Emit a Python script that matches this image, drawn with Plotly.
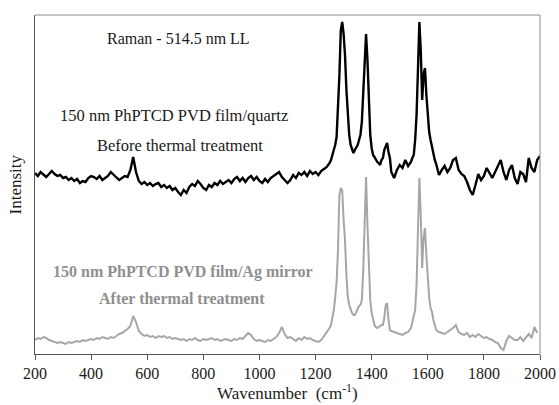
import plotly.graph_objects as go

# Raman shift sampling (cm-1): 10 cm-1 steps, 5 cm-1 steps across the main bands
wavenumber = (list(range(200, 1250, 10)) + list(range(1250, 1475, 5)) +
              list(range(1480, 1540, 10)) + list(range(1540, 1635, 5)) +
              list(range(1640, 2001, 10)))

# PVD film on quartz, before thermal treatment (offset, arbitrary units)
before_quartz = [
    181, 178, 182, 179, 177, 180, 183, 180, 178, 179,
    176, 177, 174, 176, 173, 175, 171, 173, 172, 176,
    178, 177, 175, 178, 174, 176, 178, 182, 179, 176,
    174, 176, 178, 177, 184, 197, 182, 173, 170, 172,
    169, 171, 168, 170, 171, 167, 169, 166, 168, 164,
    166, 162, 159, 164, 161, 167, 170, 168, 173, 170,
    166, 164, 169, 167, 171, 169, 173, 170, 172, 174,
    171, 175, 177, 173, 176, 172, 176, 178, 174, 177,
    173, 171, 175, 172, 176, 178, 180, 182, 177, 174,
    171, 174, 179, 176, 181, 179, 182, 178, 183, 180,
    182, 179, 183, 185, 187,
    # 1250 - 1470 (5 cm-1)
    191, 194, 199, 204, 209, 217, 242, 279, 324, 332,
    320, 299, 264, 234, 219, 209, 204, 201, 204, 206,
    209, 214, 219, 232, 259, 299, 320, 294, 254, 219,
    206, 199, 197, 194, 192, 191, 189, 194, 196, 204,
    208, 211, 202, 196, 182,
    # 1480 - 1530
    176, 184, 189, 186, 194, 188,
    # 1540 - 1630 (5 cm-1)
    192, 196, 199, 214, 239, 284, 332, 304, 254, 279,
    286, 259, 236, 222, 214, 206, 199, 194, 190,
    # 1640 - 2000
    179, 184, 188, 182, 186, 194, 196, 184, 180, 178,
    172, 164, 159, 169, 180, 174, 178, 186, 181, 176,
    182, 189, 194, 182, 174, 184, 189, 176, 170, 182,
    180, 172, 196, 186, 182, 194, 198, 204, 207
]

# PVD film on Ag mirror, after thermal treatment (arbitrary units)
after_ag = [
    14, 16, 15, 17, 16, 14, 13, 12, 11, 12,
    11, 10, 12, 11, 12, 13, 12, 14, 13, 14,
    15, 14, 16, 15, 17, 16, 15, 17, 16, 18,
    20, 21, 23, 25, 28, 38, 32, 23, 20, 18,
    19, 17, 18, 16, 18, 17, 18, 16, 17, 15,
    16, 15, 14, 15, 13, 15, 14, 16, 14, 13,
    15, 14, 15, 16, 14, 15, 13, 14, 15, 14,
    13, 15, 14, 16, 15, 18, 21, 19, 15, 13,
    14, 13, 12, 14, 13, 15, 17, 21, 27, 20,
    16, 17, 15, 13, 16, 14, 17, 15, 16, 14,
    13, 12, 14, 18, 21,
    # 1250 - 1470 (5 cm-1)
    26, 29, 36, 44, 56, 72, 104, 159, 166, 164,
    134, 114, 79, 57, 49, 44, 41, 39, 39, 42,
    46, 48, 49, 54, 84, 139, 177, 129, 79, 54,
    41, 34, 29, 27, 26, 27, 28, 29, 29, 36,
    49, 51, 34, 24, 23,
    # 1480 - 1530
    22, 21, 20, 19, 21, 22,
    # 1540 - 1630 (5 cm-1)
    26, 32, 39, 44, 69, 114, 176, 139, 86, 116,
    126, 99, 74, 56, 46, 42, 34, 28, 24,
    # 1640 - 2000
    22, 21, 20, 22, 24, 26, 29, 22, 20, 19,
    21, 17, 19, 17, 20, 18, 16, 17, 15, 14,
    12, 11, 6, 4, 13, 18, 16, 14, 14, 17,
    13, 17, 20, 16, 27, 21
]

tick_values = list(range(200, 2001, 200))

serif = "Liberation Serif"
gray = "#a6a6a6"
gray_text = "#8f8f8f"

fig = go.Figure()
fig.add_trace(go.Scatter(x=wavenumber, y=after_ag, mode="lines",
                         line=dict(color=gray, width=2), hoverinfo="skip"))
fig.add_trace(go.Scatter(x=wavenumber, y=before_quartz, mode="lines",
                         line=dict(color="black", width=2.4), hoverinfo="skip"))

fig.update_layout(
    width=559, height=405,
    margin=dict(l=35, r=19, t=15, b=51),
    paper_bgcolor="white", plot_bgcolor="white",
    showlegend=False,
    font=dict(family=serif, size=15, color="#1a1a1a"),
    xaxis=dict(range=[200, 2000], tickvals=tick_values, automargin=False,
               ticks="outside", ticklen=5, tickwidth=1, tickcolor="#555",
               showline=True, linecolor="#555", linewidth=1,
               showgrid=False, zeroline=False,
               tickfont=dict(family=serif, size=16, color="#1a1a1a")),
    yaxis=dict(range=[0, 339], showticklabels=False, ticks="", automargin=False,
               showline=True, linecolor="#555", linewidth=1,
               showgrid=False, zeroline=False),
    shapes=[
        dict(type="line", xref="paper", yref="paper", x0=0, x1=1, y0=1, y1=1,
             line=dict(color="#8c8c8c", width=1)),
        dict(type="line", xref="paper", yref="paper", x0=1, x1=1, y0=0, y1=1,
             line=dict(color="#8c8c8c", width=1)),
    ],
)

labels = [
    dict(text="Raman - 514.5 nm LL", x=713, y=316, size=16, color="#1a1a1a"),
    dict(text="150 nm PhPTCD PVD film/quartz", x=695, y=239, size=16.5, color="#1a1a1a"),
    dict(text="Before thermal treatment", x=717, y=209, size=16.5, color="#1a1a1a"),
    dict(text="<b>150 nm PhPTCD PVD film/Ag mirror</b>", x=727, y=82, size=16, color=gray_text),
    dict(text="<b>After thermal treatment</b>", x=724, y=56, size=16, color=gray_text),
]
for lab in labels:
    fig.add_annotation(text=lab["text"], x=lab["x"], y=lab["y"], xref="x", yref="y",
                       showarrow=False, xanchor="center", yanchor="middle",
                       font=dict(family=serif, size=lab["size"], color=lab["color"]))

fig.add_annotation(text="Intensity", xref="paper", yref="paper", x=0, y=0.5,
                   xshift=-20, textangle=-90, showarrow=False,
                   xanchor="center", yanchor="middle",
                   font=dict(family=serif, size=17, color="#1a1a1a"))
fig.add_annotation(text="Wavenumber  (cm<sup>-1</sup>)", xref="paper", yref="paper",
                   x=0.5, y=0, yshift=-38, showarrow=False,
                   xanchor="center", yanchor="middle",
                   font=dict(family=serif, size=17, color="#1a1a1a"))

fig.write_html("out.html")
